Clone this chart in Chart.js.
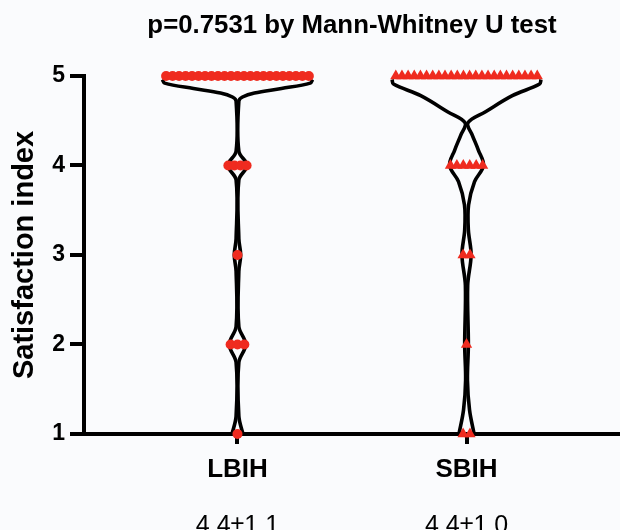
<!DOCTYPE html>
<html>
<head>
<meta charset="utf-8">
<script src="https://cdn.jsdelivr.net/npm/chart.js@4.4.1/dist/chart.umd.min.js"></script>
<style>
  html, body { margin: 0; padding: 0; background: #fafbfd; }
  #wrap { width: 620px; height: 530px; }
</style>
</head>
<body>
<div id="wrap"><canvas id="violin"></canvas></div>
<script>
// groups and labels
const categories = ['LBIH', 'SBIH'];
const statLabels = ['4.4\u00b11.1', '4.4\u00b11.0'];
const yTicks = [1, 2, 3, 4, 5];

// how many answers at each score
const levels = [1, 2, 3, 4, 5];
const lbihCounts = [1, 3, 1, 4, 23];
const sbihCounts = [2, 1, 2, 6, 24];

// violin outline, half width (x units) at each score
const lbihViolinY = [4.96, 4.92, 4.86, 4.81, 4.765, 4.72, 4.16, 4.0, 3.84, 3.18, 3.0, 2.82, 2.2, 2.0, 1.8, 1.2, 1.0];
const lbihViolinW = [0.328, 0.318, 0.192, 0.074, 0.022, 0.006, 0.006, 0.042, 0.006, 0.006, 0.014, 0.006, 0.006, 0.036, 0.006, 0.006, 0.024];
const sbihViolinY = [4.96, 4.91, 4.78, 4.60, 4.475, 4.34, 4.17, 4.0, 3.82, 3.56, 3.28, 3.0, 2.66, 2.0, 1.6, 1.27, 1.0];
const sbihViolinW = [0.325, 0.319, 0.20, 0.083, 0.006, 0.025, 0.052, 0.074, 0.035, 0.009, 0.008, 0.02, 0.005, 0.008, 0.004, 0.013, 0.033];

const red = '#ef2b1f';
Chart.defaults.font.family = "'Liberation Sans', Arial, Helvetica, sans-serif";
Chart.defaults.color = '#000';

function halfWidthAt(ys, ws, v) {
  for (let i = 0; i < ys.length - 1; i++) {
    if (v <= ys[i] && v >= ys[i + 1]) {
      const t = (ys[i] - v) / (ys[i] - ys[i + 1]);
      return ws[i] + t * (ws[i + 1] - ws[i]);
    }
  }
  return v > ys[0] ? ws[0] : ws[ws.length - 1];
}

// spread the points of one score sideways, inside the violin
function swarm(center, counts, ys, ws) {
  const pts = [];
  levels.forEach((lv, i) => {
    const n = counts[i];
    const hw = halfWidthAt(ys, ws, lv);
    const step = n > 1 ? Math.min(0.03, 1.9 * hw / (n - 1)) : 0;
    for (let k = 0; k < n; k++) {
      pts.push({ x: center + (k - (n - 1) / 2) * step, y: lv });
    }
  });
  return pts;
}

function outline(center, ys, ws, side) {
  return ys.map((y, i) => ({ x: center + side * ws[i], y: y }));
}

function violinSide(data) {
  return {
    data: data,
    showLine: true,
    borderColor: '#000',
    borderWidth: 3.6,
    pointRadius: 0,
    tension: 0.35,
    clip: false
  };
}

const groupTicks = scale => { scale.ticks = categories.map((c, i) => ({ value: i + 1 })); };

new Chart(document.getElementById('violin'), {
  type: 'scatter',
  data: {
    datasets: [
      {
        data: swarm(1, lbihCounts, lbihViolinY, lbihViolinW),
        pointStyle: 'circle',
        pointRadius: 5,
        backgroundColor: red,
        borderWidth: 0,
        clip: false
      },
      {
        data: swarm(2, sbihCounts, sbihViolinY, sbihViolinW),
        pointStyle: 'triangle',
        pointRadius: 6.5,
        backgroundColor: red,
        borderWidth: 0,
        clip: false
      },
      violinSide(outline(1, lbihViolinY, lbihViolinW, -1)),
      violinSide(outline(1, lbihViolinY, lbihViolinW, 1)),
      violinSide(outline(2, sbihViolinY, sbihViolinW, -1)),
      violinSide(outline(2, sbihViolinY, sbihViolinW, 1))
    ]
  },
  options: {
    responsive: true,
    maintainAspectRatio: false,
    animation: false,
    events: [],
    // no room kept for point radius, the x axis runs to the right edge
    layout: { padding: 0, autoPadding: false },
    plugins: {
      legend: { display: false },
      tooltip: { enabled: false },
      title: {
        display: true,
        fullSize: false,
        text: 'p=0.7531 by Mann-Whitney U test',
        color: '#000',
        font: { size: 25.8, weight: 'bold' },
        padding: { top: 10, bottom: 35 }
      }
    },
    scales: {
      x: {
        type: 'linear',
        position: 'bottom',
        weight: 0,
        min: 0.33,
        max: 2.67,
        afterBuildTicks: groupTicks,
        afterFit: s => { s.height = 58; },
        ticks: {
          callback: v => categories[Math.round(v) - 1],
          font: { size: 26, weight: 'bold' },
          color: '#000',
          padding: 10,
          maxRotation: 0
        },
        grid: { drawOnChartArea: false, tickLength: 10, color: '#000', lineWidth: 4 },
        border: { color: '#000', width: 4 }
      },
      x2: {
        type: 'linear',
        position: 'bottom',
        weight: 1,
        min: 0.33,
        max: 2.67,
        afterBuildTicks: groupTicks,
        afterFit: s => { s.height = 38; },
        ticks: {
          callback: v => statLabels[Math.round(v) - 1],
          font: { size: 25 },
          color: '#000',
          padding: 19.5,
          maxRotation: 0
        },
        grid: { display: false, drawTicks: false },
        border: { display: false }
      },
      y: {
        min: 1,
        max: 5,
        afterBuildTicks: s => { s.ticks = yTicks.map(v => ({ value: v })); },
        afterFit: s => { s.width = 84; },
        ticks: {
          font: { size: 23, weight: 'bold' },
          color: '#000',
          padding: 5
        },
        grid: { drawOnChartArea: false, tickLength: 14, color: '#000', lineWidth: 4 },
        border: { color: '#000', width: 4 },
        title: {
          display: true,
          text: 'Satisfaction index',
          color: '#000',
          font: { size: 29, weight: 'bold' },
          padding: { top: 8, bottom: 0 }
        }
      }
    }
  }
});
</script>
</body>
</html>
